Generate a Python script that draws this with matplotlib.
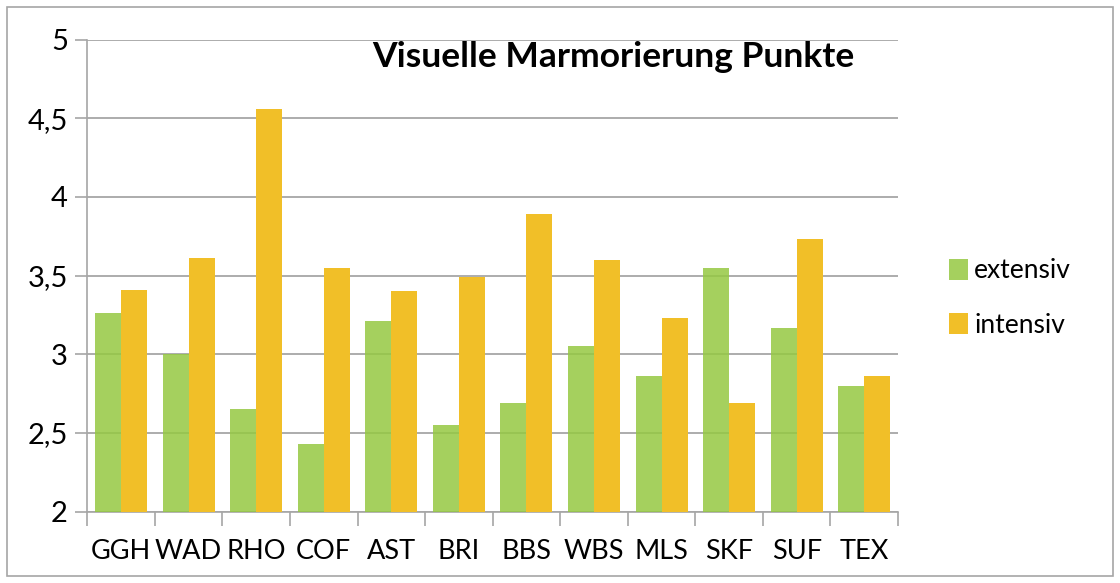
import numpy as np
import matplotlib
matplotlib.use("Agg")
import matplotlib.pyplot as plt
from matplotlib.patches import Rectangle

# Daten
categories = ["GGH", "WAD", "RHO", "COF", "AST", "BRI", "BBS", "WBS", "MLS", "SKF", "SUF", "TEX"]
extensiv = [3.26, 3.00, 2.65, 2.43, 3.21, 2.55, 2.69, 3.05, 2.86, 3.55, 3.17, 2.80]
intensiv = [3.41, 3.61, 4.56, 3.55, 3.40, 3.49, 3.89, 3.60, 3.23, 2.69, 3.73, 2.86]
yticks = [2, 2.5, 3, 3.5, 4, 4.5, 5]
ytick_labels = ["2", "2,5", "3", "3,5", "4", "4,5", "5"]

GREEN = "#95C842"
YELLOW = "#F1BF28"
GRID = "#A6A6A6"

plt.rcParams["font.family"] = ["Lato", "DejaVu Sans"]

W, H = 1120, 583
fig = plt.figure(figsize=(W / 100, H / 100), dpi=100)
fig.patch.set_facecolor("white")
fig.patches.append(Rectangle((7 / W, 7 / H), 1 - 14 / W, 1 - 14 / H, transform=fig.transFigure,
                             fill=False, edgecolor=GRID, linewidth=1.2))

left, right, top, bottom = 87.3, 898, 39.5, 511.7
ax = fig.add_axes([left / W, 1 - bottom / H, (right - left) / W, (bottom - top) / H])

x = np.arange(len(categories))
bw = 0.385
# grün leicht transparent -> Gitterlinien scheinen durch, gelb deckend darüber
b1 = ax.bar(x - bw / 2, extensiv, bw, color=GREEN, alpha=0.85, zorder=3, label="extensiv")
b2 = ax.bar(x + bw / 2, intensiv, bw, color=YELLOW, zorder=3, label="intensiv")

ax.set_xlim(-0.5, len(categories) - 0.5)
ax.set_ylim(2, 5)
ax.set_yticks(yticks)
ax.set_yticklabels(ytick_labels, fontsize=21)
ax.grid(axis="y", color=GRID, linewidth=1.3, zorder=2)
ax.set_axisbelow(True)

ax.set_xticks(np.arange(len(categories) + 1) - 0.5)
ax.set_xticklabels([])
ax.set_xticks(x, minor=True)
ax.set_xticklabels(categories, minor=True, fontsize=19.5)
ax.tick_params(axis="x", which="major", length=10, color=GRID, width=1.2)
ax.tick_params(axis="x", which="minor", length=0, pad=20)
ax.tick_params(axis="y", length=9, color=GRID, width=1.2, pad=5)

for s in ["top", "right"]:
    ax.spines[s].set_visible(False)
for s in ["left", "bottom"]:
    ax.spines[s].set_color(GRID)
    ax.spines[s].set_linewidth(1.2)

fig.text(613 / W, 1 - 57 / H, "Visuelle Marmorierung Punkte", ha="center", va="center",
         fontsize=25.5, fontweight="bold")

fig.legend(handles=[b1, b2], loc="center left", bbox_to_anchor=(936 / W, 1 - 298 / H),
           frameon=False, fontsize=19, handlelength=0.7, handleheight=0.85, handletextpad=0.25,
           labelspacing=1.1, borderpad=0)

fig.savefig("out.png", dpi=100)
